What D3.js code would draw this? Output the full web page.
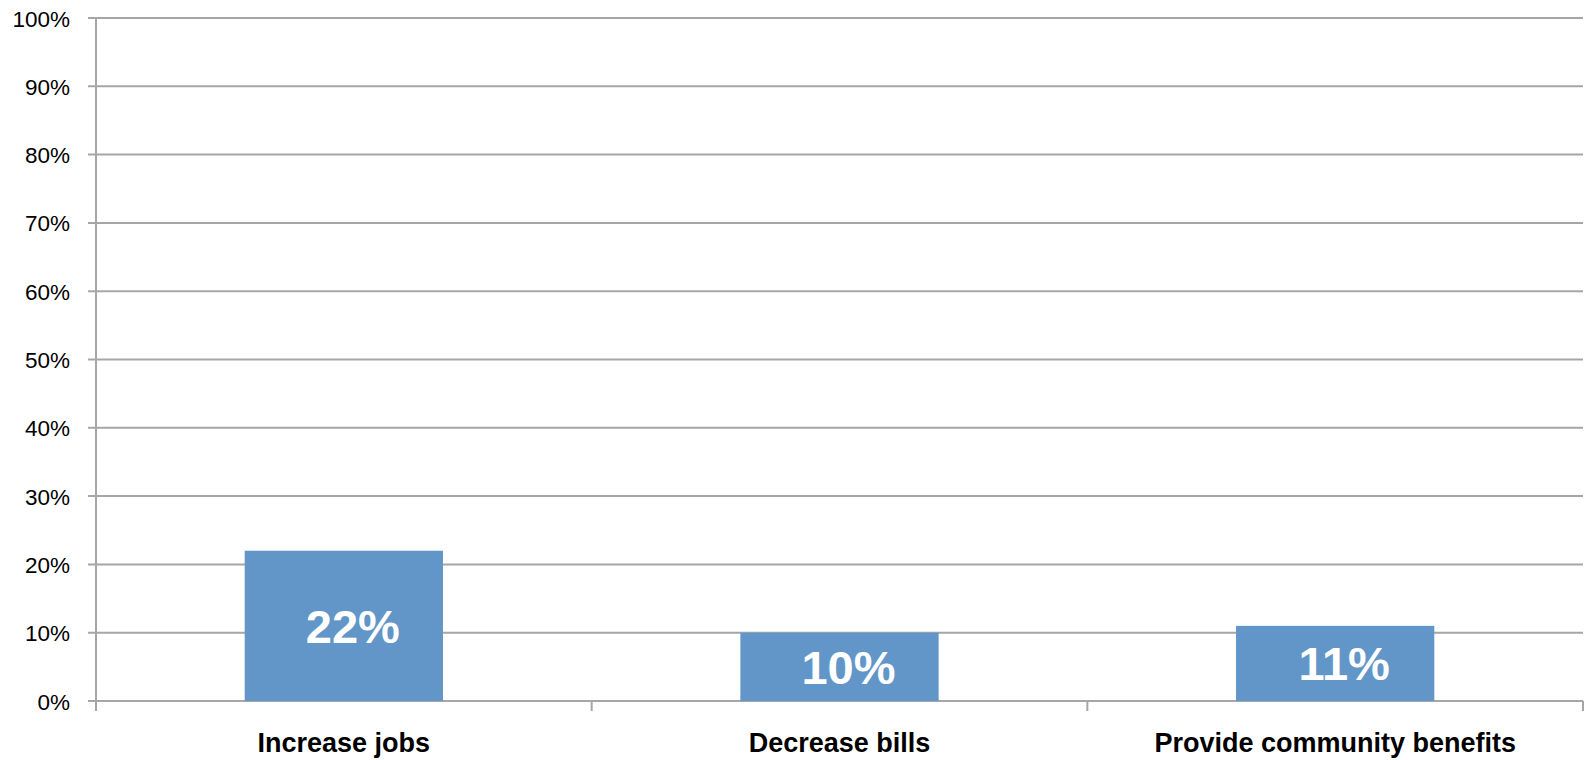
<!DOCTYPE html>
<html><head><meta charset="utf-8">
<script src="https://cdn.jsdelivr.net/npm/d3@7"></script>
<style>html,body{margin:0;padding:0;background:#fff;}svg{display:block;}</style>
</head><body>
<script>
const categories = ["Increase jobs", "Decrease bills", "Provide community benefits"];
const values = [0.22, 0.10, 0.11];
const valueLabels = ["22%", "10%", "11%"];
const yTicks = [0, 0.1, 0.2, 0.3, 0.4, 0.5, 0.6, 0.7, 0.8, 0.9, 1.0];

const W = 1585, H = 760;
const m = {left: 96, right: 2, top: 18, bottom: 59};
const svg = d3.select("body").append("svg").attr("width", W).attr("height", H);

const x = d3.scaleBand().domain(categories).range([m.left, W - m.right]).paddingInner(0.6).paddingOuter(0.3);
const xb = d3.scaleBand().domain(categories).range([m.left, W - m.right]);
const y = d3.scaleLinear().domain([0, 1]).range([H - m.bottom, m.top]);
const grid = "#a6a6a6";

// gridlines
svg.append("g").selectAll("line").data(yTicks).join("line")
  .attr("x1", m.left - 8).attr("x2", W - m.right)
  .attr("y1", d => y(d)).attr("y2", d => y(d))
  .attr("stroke", grid).attr("stroke-width", 2);

// y axis line
svg.append("line").attr("x1", m.left).attr("x2", m.left)
  .attr("y1", m.top).attr("y2", y(0) + 10).attr("stroke", grid).attr("stroke-width", 2);

// x ticks at band boundaries
const bounds = categories.map(c => xb(c)).concat([W - m.right]);
svg.append("g").selectAll("line").data(bounds.slice(1)).join("line")
  .attr("x1", d => d).attr("x2", d => d)
  .attr("y1", y(0)).attr("y2", y(0) + 10).attr("stroke", grid).attr("stroke-width", 2);

// y tick labels
svg.append("g").selectAll("text").data(yTicks).join("text")
  .attr("x", 70).attr("y", d => y(d) + 8.5)
  .attr("text-anchor", "end")
  .attr("font-family", "Liberation Sans, Arial, sans-serif").attr("font-size", 22.5).attr("fill", "#000")
  .text(d => d3.format(".0%")(d));

// bars
svg.append("g").selectAll("rect").data(values).join("rect")
  .attr("x", (d, i) => x(categories[i])).attr("width", x.bandwidth())
  .attr("y", d => y(d)).attr("height", d => y(0) - y(d))
  .attr("fill", "#6296C9");

// value labels
svg.append("g").selectAll("text").data(values).join("text")
  .attr("x", (d, i) => x(categories[i]) + x.bandwidth() / 2 + 9)
  .attr("y", d => (y(d) + y(0)) / 2 + 17)
  .attr("text-anchor", "middle")
  .attr("font-family", "Liberation Sans, Arial, sans-serif").attr("font-weight", "bold")
  .attr("font-size", 47).attr("fill", "#fff")
  .text((d, i) => valueLabels[i]);

// category labels
svg.append("g").selectAll("text").data(categories).join("text")
  .attr("x", d => x(d) + x.bandwidth() / 2).attr("y", 752)
  .attr("text-anchor", "middle")
  .attr("font-family", "Liberation Sans, Arial, sans-serif").attr("font-weight", "bold")
  .attr("font-size", 27).attr("fill", "#000")
  .text(d => d);
</script>
</body></html>
